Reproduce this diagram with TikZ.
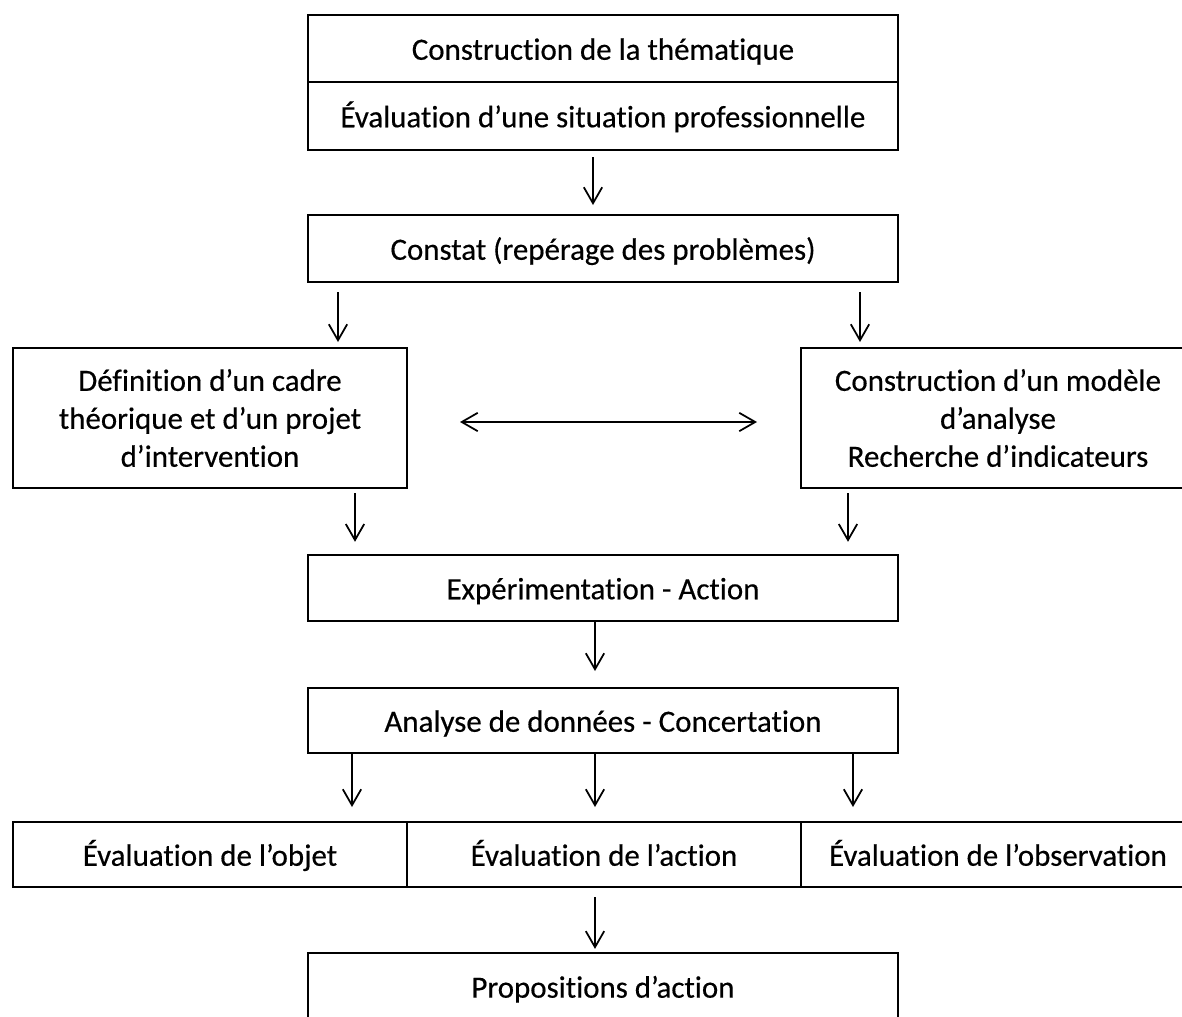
\documentclass[tikz,border=0pt]{standalone}
\usepackage{fontspec}
\setmainfont{Carlito}[FakeBold=0.4, Ligatures=NoCommon]
\usetikzlibrary{positioning, arrows.meta}

\begin{document}
\begin{tikzpicture}[
		boite/.style={rectangle, draw, line width=1.4pt, outer sep=0pt, inner sep=0pt, align=center, font=\fontsize{22}{27}\selectfont},
		etape/.style={boite, minimum width=14.75cm, minimum height=1.675cm, text height=16pt, text depth=0pt},
		cadre/.style={boite, minimum width=9.85cm, minimum height=3.5cm},
		cellule/.style={etape, minimum width=9.85cm, minimum height=1.625cm},
		fleche/.style={->, line width=1.25pt},
		>={Straight Barb[length=4mm, width=4.6mm, line width=1.25pt]}
		]
		\useasboundingbox (0,0) rectangle (29.55,-25.425);
		\node[etape] (theme) at (15.075, -1.2125) {Construction de la thématique};
		\node[etape, minimum height=1.7cm] (situation) at (15.075, -2.9) {Évaluation d’une situation professionnelle};
		\node[etape] (constat) at (15.075, -6.2125) {Constat (repérage des problèmes)};
		
		\node[cadre] (cadre) at (5.25, -10.45) {Définition d’un cadre\\théorique et d’un projet\\d’intervention};
		\node[cadre] (modele) at (24.95, -10.45) {Construction d’un modèle\\d’analyse\\Recherche d’indicateurs};
		
		\node[etape, minimum height=1.65cm] (action) at (15.075, -14.7) {Expérimentation - Action};
		\node[etape, minimum height=1.625cm] (analyse) at (15.075, -18.0125) {Analyse de données - Concertation};
		
		\foreach \txt [count=\i from 1] in {l’objet, l’action, l’observation}
		\node[cellule] (eval\i) at (5.25+9.85*\i-9.85, -21.3625) {Évaluation de \txt};
		
		\node[etape] (propositions) at (15.075, -24.66) {Propositions d’action};
		
		\draw[fleche, shorten <=1.75mm, shorten >=2.5mm] ([xshift=-2.5mm]situation.south) to ([xshift=-2.5mm]constat.north);
		\draw[fleche, shorten <=2.5mm, shorten >=1.5mm] ([xshift=0.75cm]constat.south west) to ([xshift=-1.725cm]cadre.north east);
		\draw[fleche, shorten <=2.5mm, shorten >=1.5mm] ([xshift=-0.95cm]constat.south east) to ([xshift=1.475cm]modele.north west);
		\draw[fleche, <->, line width=1pt, shorten <=1.325cm, shorten >=1.1cm] ([yshift=-1mm]cadre.east) to ([yshift=-1mm]modele.west);
		\draw[fleche, shorten <=1.25mm, shorten >=3.3mm] ([xshift=-1.3cm]cadre.south east) to ([xshift=1.175cm]action.north west);
		\draw[fleche, shorten <=1.25mm, shorten >=3.3mm] ([xshift=1.175cm]modele.south west) to ([xshift=-1.25cm]action.north east);
		\draw[fleche, shorten >=4.25mm] ([xshift=-2mm]action.south) to ([xshift=-2mm]analyse.north);
		
		\draw[fleche, shorten >=3.75mm] ([xshift=1.1cm]analyse.south west) to ([xshift=-1.375cm]eval1.north east);
		\draw[fleche, shorten >=3.75mm] ([xshift=-2mm]analyse.south) to ([xshift=-2.25mm]eval2.north);
		\draw[fleche, shorten >=3.75mm] ([xshift=-1.125cm]analyse.south east) to ([xshift=1.3cm]eval3.north west);
		\draw[fleche, shorten <=2.5mm, shorten >=1mm] ([xshift=-2.25mm]eval2.south) to ([xshift=-2mm]propositions.north);
		\end{tikzpicture}
\end{document}
